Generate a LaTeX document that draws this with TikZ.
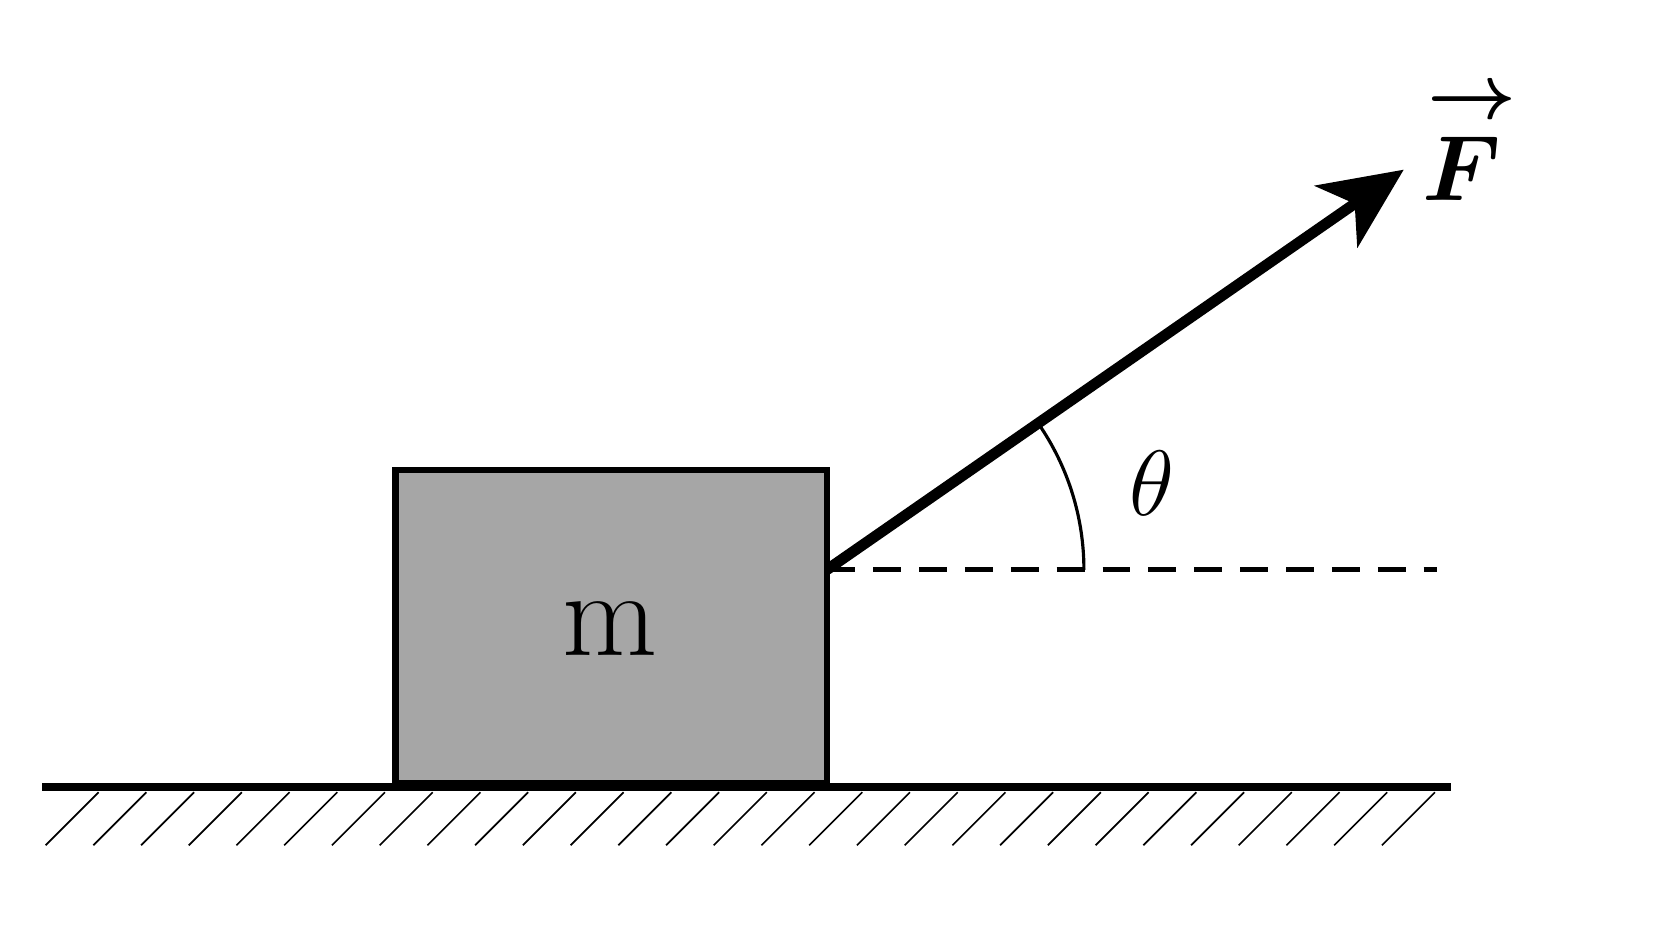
\documentclass[tikz,border=0pt]{standalone}
\usepackage{amsmath}
\usetikzlibrary{arrows.meta}
\usetikzlibrary{positioning}
\definecolor{blockgray}{HTML}{A6A6A6}
\tikzset{x=0.01cm,y=-0.01cm,
    ground/.style={line width=2.3pt},
    hatch/.style={line width=0.45pt},
    block/.style={draw,line width=1.7pt,fill=blockgray},
    force/.style={line width=2.9pt,-{Stealth[length=22pt,width=20pt,inset=6pt]},shorten >=-4pt},
    guide/.style={line width=1.4pt,dash pattern=on 7.5pt off 4.8pt},
    label/.style={inner sep=0pt}}
\begin{document}
\begin{tikzpicture}
        \useasboundingbox (0,0) rectangle (1568,891);
        \coordinate (g1) at (40,742);
        \coordinate (g2) at (1368,742);
        \draw[ground] (g1) -- (g2);
        \foreach \i in {0,...,28}
            \draw[hatch] (43+45*\i,797) -- ++(50,-50);

        \draw[block] (373,443) rectangle (780,738);
        \node[label,font=\fontsize{33}{36}\selectfont] (m) at (575,593) {m};

        \coordinate (P) at (780,537);
        \coordinate (Ftip) at (1312,168);
        \coordinate (D) at (1355,537);
        \draw[guide] (P) -- (D);
        \draw[force] (P) -- (Ftip);
        \draw[line width=0.85pt] ([shift={(0:242)}]P) arc[start angle=0,end angle=-34.6,radius=242];

        \node[label,font=\fontsize{30}{34}\selectfont] (theta) at (1086,456) {$\theta$};
        \node[label,font=\fontsize{40}{44}\selectfont] (F) at (1378,132) {$\overset{\mkern4mu\boldsymbol{\scriptscriptstyle\rightarrow}}{\boldsymbol{F}}$};
    \end{tikzpicture}
\end{document}
